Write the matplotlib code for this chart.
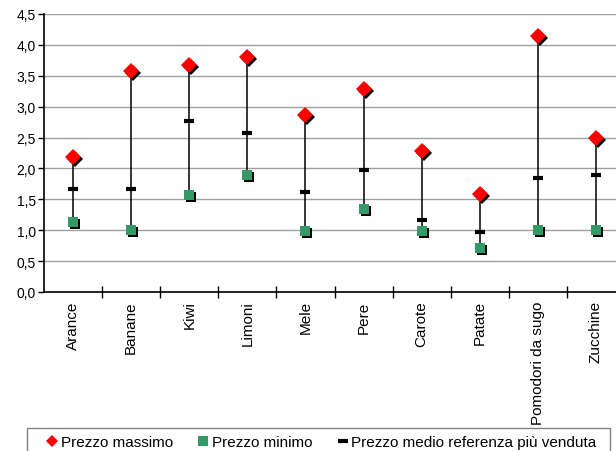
import matplotlib
matplotlib.use("Agg")
import matplotlib.pyplot as plt
from matplotlib.lines import Line2D
from matplotlib.patches import Rectangle
from matplotlib.transforms import offset_copy

plt.rcParams["font.family"] = ["Liberation Sans", "DejaVu Sans"]

# ------------------------------------------------------------
# Dati: prezzi per prodotto (euro/kg)
# ------------------------------------------------------------
prodotti = ["Arance", "Banane", "Kiwi", "Limoni", "Mele", "Pere",
            "Carote", "Patate", "Pomodori da sugo", "Zucchine"]
prezzo_massimo = [2.19, 3.57, 3.67, 3.80, 2.86, 3.28, 2.29, 1.58, 4.14, 2.49]
prezzo_minimo = [1.14, 1.00, 1.57, 1.89, 0.99, 1.34, 0.99, 0.72, 1.00, 1.00]
prezzo_medio = [1.67, 1.67, 2.77, 2.57, 1.62, 1.97, 1.16, 0.97, 1.84, 1.90]
tick_y = [0.0, 0.5, 1.0, 1.5, 2.0, 2.5, 3.0, 3.5, 4.0, 4.5]

ROSSO = "#FF0000"
VERDE = "#339966"

fig = plt.figure(figsize=(6.16, 4.52), dpi=100)
ax = fig.add_axes([44 / 616, 1 - 293 / 452, 581 / 616, 278 / 452])

x = list(range(len(prodotti)))

# griglia orizzontale
for v in tick_y[1:]:
    ax.axhline(v, color="#A0A0A0", lw=1, zorder=0)

# linee massimo-minimo
ax.vlines(x, prezzo_minimo, prezzo_massimo, color="black", lw=1.1, zorder=1)

# ombre dei marcatori
ombra = offset_copy(ax.transData, fig=fig, x=2, y=-2, units="dots")
ax.plot(x, prezzo_massimo, "D", ms=8, color="black", mew=0, transform=ombra, zorder=2)
ax.plot(x, prezzo_minimo, "s", ms=7.8, color="black", mew=0, transform=ombra, zorder=2)

ax.plot(x, prezzo_massimo, "D", ms=8, color=ROSSO, mew=0, zorder=3)
ax.plot(x, prezzo_minimo, "s", ms=7.8, color=VERDE, mew=0, zorder=3)
ax.plot(x, prezzo_medio, "_", ms=7, mew=3, color="black", zorder=3)

ax.set_xlim(-0.5, len(prodotti) - 0.5)
ax.set_ylim(0, 4.5)
ax.set_yticks(tick_y)
ax.set_yticklabels([f"{v:.1f}".replace(".", ",") for v in tick_y], fontsize=10)

ax.set_xticks([i + 0.5 for i in range(len(prodotti) - 1)])
ax.set_xticklabels([])
ax.set_xticks(x, minor=True)
ax.set_xticklabels(prodotti, minor=True, rotation=90, fontsize=11, va="top")
ax.tick_params(axis="x", which="major", direction="inout", length=8, width=1)
ax.tick_params(axis="x", which="minor", length=0, pad=6)
ax.tick_params(axis="y", direction="out", length=4, width=1, pad=2)

for s in ["top", "right"]:
    ax.spines[s].set_visible(False)
for s in ["left", "bottom"]:
    ax.spines[s].set_linewidth(1.2)

# legenda in basso
fig.patches.append(Rectangle((27 / 616, -0.1), 583 / 616, 0.1 + 1 - 429 / 452,
                             transform=fig.transFigure, fill=False,
                             edgecolor="#808080", lw=1))
handles = [
    Line2D([], [], ls="none", marker="D", ms=6, color=ROSSO, mew=0),
    Line2D([], [], ls="none", marker="s", ms=7, color=VERDE, mew=0),
    Line2D([], [], ls="none", marker="_", ms=7, mew=3, color="black"),
]
labels = ["Prezzo massimo", "Prezzo minimo", "Prezzo medio referenza più venduta"]
fig.legend(handles, labels, loc="center left", bbox_to_anchor=(46 / 616, 1 - 443 / 452),
           ncol=3, frameon=False, fontsize=11, handlelength=0.8, handletextpad=0.15,
           columnspacing=1.6, borderpad=0, borderaxespad=0)

fig.savefig("out.png", dpi=100)
